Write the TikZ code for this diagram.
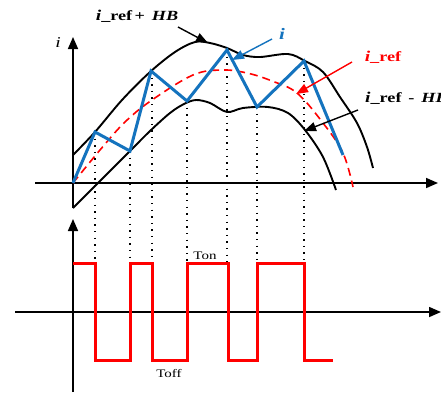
\documentclass[tikz,border=0pt]{standalone}
\usepackage{fontspec}
\setmainfont{Liberation Serif}
\newfontfamily\widefont[FakeStretch=1.3]{Liberation Serif}
\usetikzlibrary{arrows.meta}
\definecolor{curblue}{RGB}{20,115,190}
\tikzset{
  axis/.style={line width=1.6pt,-{Triangle[length=12pt,width=10pt]}},
  band/.style={line width=1.9pt},
  refc/.style={red,line width=1.6pt,dash pattern=on 8pt off 5pt},
  cur/.style={curblue,line width=3pt,line join=miter},
  sq/.style={red,line width=3pt},
  dots/.style={line width=1.4pt,dash pattern=on 1.4pt off 5.2pt},
  lbl/.style={font=\widefont\fontsize{14}{15}\selectfont\bfseries,inner sep=0pt},
  ptr/.style={line width=1.4pt,-{Triangle[length=12pt,width=9pt]}},
  small/.style={font=\widefont\fontsize{11.5}{12}\selectfont,inner sep=0pt}
}
\begin{document}
\begin{tikzpicture}[x=1pt,y=-1pt]
\clip (0,0) rectangle (441,392);
\fill[white] (0,0) rectangle (441,392);
% axes
\coordinate (uo) at (73,208);
\coordinate (ut) at (73,37);
\coordinate (hl) at (35,183);
\coordinate (hr) at (438,183);
\draw[axis] (uo) -- (ut);
\draw[axis] (hl) -- (hr);
\coordinate (lo) at (73,392);
\coordinate (lt) at (73,219);
\coordinate (ll) at (15,312);
\coordinate (lr) at (441,312);
\draw[axis] (lo) -- (lt);
\draw[axis] (ll) -- (lr);
\node[inner sep=0pt,font=\widefont\fontsize{15}{16}\selectfont\itshape] (ilab) at (58,43) {i};
% dotted lines
\foreach \x/\y in {95/132,130/151,152/71,187/101,227/50,257/107,304/61}
  \draw[dots] (\x,\y) -- (\x,263);
% band curves
\draw[band] plot[smooth,tension=0.55] coordinates {(73,155) (95,132) (122,100) (150,72) (175,52) (195,42) (210,43) (227,48) (243,55) (260,57) (288,54) (305,61) (323,72) (340,97) (357,123) (367,147) (373,168)};
\draw[band] plot[smooth,tension=0.55] coordinates {(73,208) (98,183) (130,151) (150,131) (170,113) (184,104) (196,100) (210,103) (227,112) (243,108) (268,107) (288,113) (305,130) (323,157) (336,190)};
% reference
\draw[refc] plot[smooth,tension=0.6] coordinates {(73,183) (100,150) (125,122) (152,100) (193,75) (222,70) (247,73) (272,81) (297,93) (323,123) (343,153) (353,187)};
% current
\draw[cur] (73,183) -- (95,132) -- (130,151) -- (151,71) -- (187,101) -- (227,50) -- (257,107) -- (304,61) -- (343,155);
% square wave
\draw[sq] (73,263) -- (95,263) -- (95,360) -- (130,360) -- (130,263) -- (152,263) -- (152,360) -- (187,360) -- (187,263) -- (228,263) -- (228,360) -- (257,360) -- (257,263) -- (304,263) -- (304,360) -- (333,360);
\node[small] (ton) at (205,256) {Ton};
\node[small] (toff) at (169,373) {Toff};
% labels
\node[lbl] (up) at (137,16) {{\fontsize{15}{16}\selectfont\textit{i}}\_ref\,+ \,\textit{HB}};
\coordinate (upt) at (208,43);
\draw[ptr] (178,27) -- (upt);
\node[lbl,curblue] (il) at (282,34) {\fontsize{16}{16}\selectfont\textit{i}};
\coordinate (ilt) at (232,60);
\draw[ptr,curblue] (272,39) -- (ilt);
\node[lbl,red] (rl) at (383,57) {{\fontsize{15}{16}\selectfont\textit{i}}\_ref};
\coordinate (rlt) at (296,94);
\draw[ptr,red] (352,62) -- (rlt);
\node[lbl,anchor=west] (lw) at (365,98) {{\fontsize{15}{16}\selectfont\textit{i}}\_ref\, - \,\textit{HB}};
\coordinate (lwt) at (304,131);
\draw[ptr] (358,110) -- (lwt);
\end{tikzpicture}
\end{document}
